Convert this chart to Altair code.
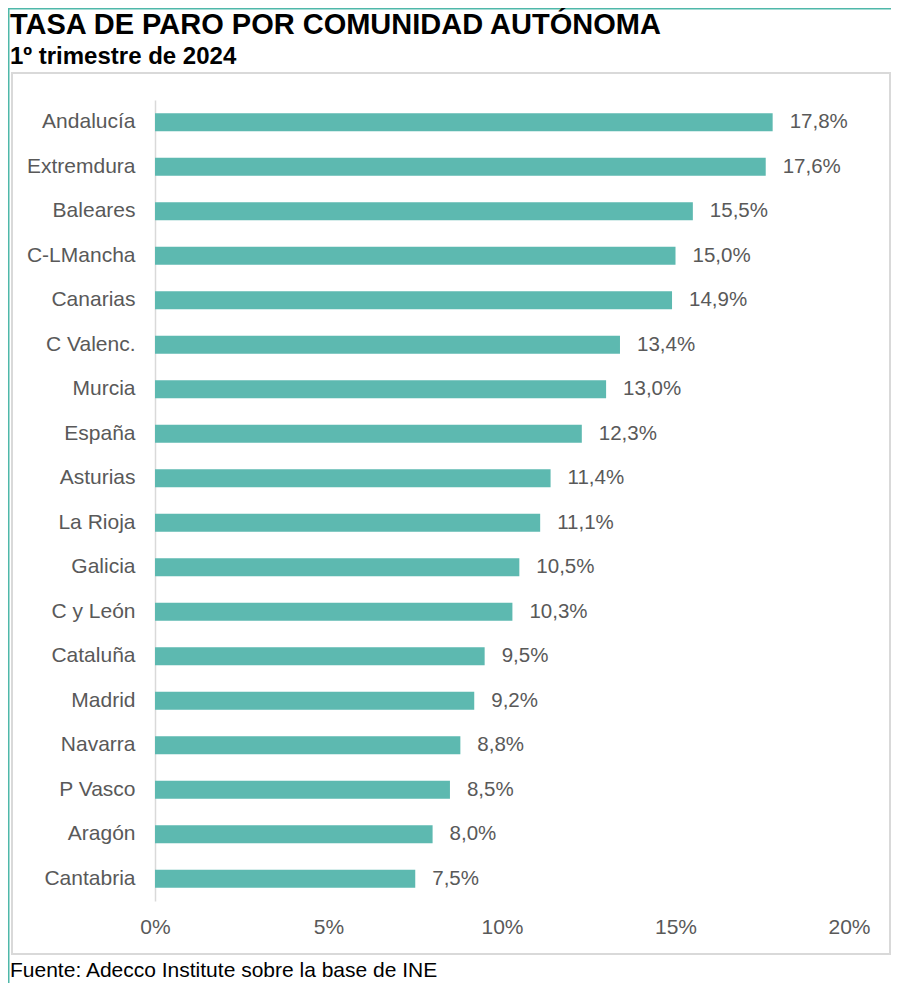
import altair as alt
import pandas as pd

regions = ["Andalucía", "Extremdura", "Baleares", "C-LMancha", "Canarias",
           "C Valenc.", "Murcia", "España", "Asturias", "La Rioja", "Galicia",
           "C y León", "Cataluña", "Madrid", "Navarra", "P Vasco", "Aragón",
           "Cantabria"]
rates = [17.8, 17.6, 15.5, 15.0, 14.9, 13.4, 13.0, 12.3, 11.4, 11.1, 10.5,
         10.3, 9.5, 9.2, 8.8, 8.5, 8.0, 7.5]
x_ticks = [0, 5, 10, 15, 20]

title_text = "TASA DE PARO POR COMUNIDAD AUTÓNOMA"
subtitle_text = "1º trimestre de 2024"
source_text = "Fuente: Adecco Institute sobre la base de INE"

df = pd.DataFrame({"region": regions, "rate": rates})

FONT = "Liberation Sans"
BAR = "#5db9b0"
GREY_TXT = "#595959"

PW, PH = 694, 801
PAD_L, PAD_T = 147, 92
TOTAL_W, TOTAL_H = 883, 975

base = alt.Chart(df)

bars = base.mark_bar(color=BAR).encode(
    x=alt.X("rate:Q",
            scale=alt.Scale(domain=[0, 20], nice=False, zero=True),
            axis=alt.Axis(values=x_ticks, labelExpr="datum.value + '%'",
                          title=None, domain=False, ticks=False, grid=False,
                          labelFlush=False,
                          labelFont=FONT, labelFontSize=21, labelColor=GREY_TXT,
                          labelPadding=15)),
    y=alt.Y("region:N", sort=regions,
            scale=alt.Scale(paddingInner=0.6, paddingOuter=0.3),
            axis=alt.Axis(title=None, ticks=False, grid=False,
                          domain=True, domainColor="#d9d9d9", domainWidth=1.5,
                          labelFont=FONT, labelFontSize=21, labelColor=GREY_TXT,
                          labelPadding=20)),
)

labels = base.transform_calculate(
    lab="replace(format(datum.rate, '.1f'), '.', ',') + '%'"
).mark_text(align="left", baseline="middle", dx=17, font=FONT, fontSize=20.5,
            color=GREY_TXT).encode(
    x="rate:Q",
    y=alt.Y("region:N", sort=regions),
    text="lab:N",
)

one = alt.Data(values=[{"a": 1}])

box = alt.Chart(one).mark_rect(fill=None, stroke="#d9d9d9", strokeWidth=2).encode(
    x=alt.value(-PAD_L + 4), x2=alt.value(TOTAL_W - PAD_L - 1),
    y=alt.value(65 - PAD_T), y2=alt.value(946 - PAD_T),
)

teal_left = alt.Chart(one).mark_rule(color="#4fb8a9", strokeWidth=1.5).encode(
    x=alt.value(-PAD_L + 0.75), y=alt.value(-PAD_T), y2=alt.value(TOTAL_H - PAD_T),
)
teal_top = alt.Chart(one).mark_rule(color="#4fb8a9", strokeWidth=1.5).encode(
    y=alt.value(-PAD_T + 0.75), x=alt.value(-PAD_L), x2=alt.value(TOTAL_W - PAD_L),
)

title = alt.Chart(one).mark_text(align="left", baseline="alphabetic", font=FONT,
                                 fontSize=29, fontWeight="bold", color="black").encode(
    x=alt.value(-PAD_L + 2), y=alt.value(26 - PAD_T), text=alt.value(title_text),
)
subtitle = alt.Chart(one).mark_text(align="left", baseline="alphabetic", font=FONT,
                                    fontSize=24, fontWeight="bold", color="black").encode(
    x=alt.value(-PAD_L + 2), y=alt.value(56 - PAD_T), text=alt.value(subtitle_text),
)
source = alt.Chart(one).mark_text(align="left", baseline="alphabetic", font=FONT,
                                  fontSize=21, color="black").encode(
    x=alt.value(-PAD_L + 2), y=alt.value(TOTAL_H - 6 - PAD_T), text=alt.value(source_text),
)

chart = alt.layer(box, teal_left, teal_top, bars, labels, title, subtitle, source).properties(
    width=PW, height=PH,
    background="white",
    autosize=alt.AutoSizeParams(type="none"),
    padding={"left": PAD_L, "top": PAD_T, "right": TOTAL_W - PAD_L - PW,
             "bottom": TOTAL_H - PAD_T - PH},
).configure_view(strokeWidth=0, stroke=None)

chart.save("out.html", embed_options={"renderer": "svg", "actions": False})
